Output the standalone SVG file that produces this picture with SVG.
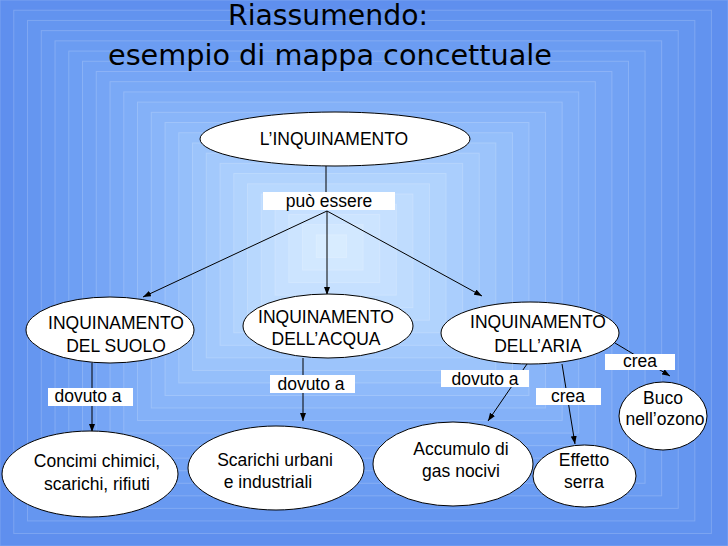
<svg xmlns="http://www.w3.org/2000/svg" width="728" height="546" viewBox="0 0 728 546">
<defs>
<marker id="arr" viewBox="0 0 8 6" markerWidth="8" markerHeight="6" refX="8" refY="3" orient="auto" markerUnits="userSpaceOnUse">
<path d="M0,0 L8,3 L0,6 z" fill="#000"/>
</marker>
<style>
.bg rect{stroke:#ffffff;stroke-opacity:0.18;stroke-width:1}
.node ellipse{fill:#fff;stroke:#000;stroke-width:1}
.t{font-family:"Liberation Sans",Arial,sans-serif;font-size:17.5px;fill:#000;text-anchor:middle}
.title{font-family:"DejaVu Sans",sans-serif;font-size:28px;fill:#000;text-anchor:middle}
.lbl rect{fill:#fff}
.conn line{stroke:#000;stroke-width:1;fill:none}
.conn .a{marker-end:url(#arr)}
</style>
</defs>
<g class="bg">
<rect x="0" y="0" width="728" height="546" fill="#5f8fee"/>
<rect x="13.75" y="10.21" width="697.67" height="523.25" fill="#6293ef"/>
<rect x="27.5" y="20.42" width="667.33" height="500.5" fill="#6596f0"/>
<rect x="41.25" y="30.63" width="637" height="477.75" fill="#6899f1"/>
<rect x="55" y="40.83" width="606.67" height="455" fill="#6b9cf2"/>
<rect x="68.75" y="51.04" width="576.33" height="432.25" fill="#6e9ff3"/>
<rect x="82.5" y="61.25" width="546" height="409.5" fill="#72a2f4"/>
<rect x="96.25" y="71.46" width="515.67" height="386.75" fill="#76a5f5"/>
<rect x="110" y="81.67" width="485.33" height="364" fill="#7aa9f6"/>
<rect x="123.75" y="91.88" width="455" height="341.25" fill="#7fadf7"/>
<rect x="137.5" y="102.08" width="424.67" height="318.5" fill="#84b1f8"/>
<rect x="151.25" y="112.29" width="394.33" height="295.75" fill="#89b5f9"/>
<rect x="165" y="122.5" width="364" height="273" fill="#8fbafa"/>
<rect x="178.75" y="132.71" width="333.67" height="250.25" fill="#95bffa"/>
<rect x="192.5" y="142.92" width="303.33" height="227.5" fill="#9cc4fb"/>
<rect x="206.25" y="153.13" width="273" height="204.75" fill="#a3c9fc"/>
<rect x="220" y="163.33" width="242.67" height="182" fill="#aacefd"/>
<rect x="233.75" y="173.54" width="212.33" height="159.25" fill="#b1d3fd"/>
<rect x="247.5" y="183.75" width="182" height="136.5" fill="#b8d8fe"/>
<rect x="261.25" y="193.96" width="151.67" height="113.75" fill="#bfdcfe"/>
<rect x="275" y="204.17" width="121.33" height="91" fill="#c6e0ff"/>
<rect x="288.75" y="214.38" width="91" height="68.25" fill="#cce4ff"/>
<rect x="302.5" y="224.58" width="60.67" height="45.5" fill="#d2e8ff"/>
<rect x="316.25" y="234.79" width="30.33" height="22.75" fill="#d8ecff"/>
</g>
<g id="title">
<text class="title" x="328" y="25" textLength="200" lengthAdjust="spacingAndGlyphs">Riassumendo:</text>
<text class="title" x="330" y="65" textLength="444" lengthAdjust="spacingAndGlyphs">esempio di mappa concettuale</text>
</g>
<g class="conn">
<line x1="326" y1="166" x2="326" y2="192"/>
<line class="a" x1="327" y1="211" x2="143" y2="297"/>
<line class="a" x1="327" y1="211" x2="327" y2="295"/>
<line class="a" x1="327" y1="211" x2="482" y2="296"/>
<line class="a" x1="92" y1="363" x2="92" y2="432"/>
<line class="a" x1="303" y1="358" x2="303" y2="421"/>
<line class="a" x1="527" y1="364" x2="488" y2="421"/>
<line class="a" x1="562" y1="364" x2="575" y2="444"/>
<line class="a" x1="615" y1="343" x2="670" y2="376"/>
</g>
<g class="lbl">
<g id="lbl-puo"><rect x="263" y="192" width="132" height="18"/><text class="t" x="329" y="207">può essere</text></g>
<g id="lbl-dov1"><rect x="48" y="388" width="85" height="18"/><text class="t" x="88" y="402">dovuto a</text></g>
<g id="lbl-dov2"><rect x="270" y="375" width="85" height="18"/><text class="t" x="311" y="390">dovuto a</text></g>
<g id="lbl-dov3"><rect x="441" y="370" width="88" height="17"/><text class="t" x="485" y="385">dovuto a</text></g>
<g id="lbl-crea1"><rect x="536" y="388" width="65" height="17"/><text class="t" x="568" y="402">crea</text></g>
<g id="lbl-crea2"><rect x="605" y="354" width="70" height="16"/><text class="t" x="640" y="367">crea</text></g>
</g>
<g id="n-inq" class="node"><ellipse cx="335" cy="139" rx="135" ry="27"/><text class="t" x="334" y="145">L’INQUINAMENTO</text></g>
<g id="n-suolo" class="node"><ellipse cx="110" cy="330" rx="84" ry="33"/><text class="t" x="116" y="329">INQUINAMENTO</text><text class="t" x="116" y="352">DEL SUOLO</text></g>
<g id="n-acqua" class="node"><ellipse cx="328" cy="326" rx="85" ry="32"/><text class="t" x="326" y="323">INQUINAMENTO</text><text class="t" x="326" y="345">DELL’ACQUA</text></g>
<g id="n-aria" class="node"><ellipse cx="530" cy="333" rx="89" ry="31"/><text class="t" x="538" y="328">INQUINAMENTO</text><text class="t" x="538" y="352">DELL’ARIA</text></g>
<g id="n-concimi" class="node"><ellipse cx="90" cy="474" rx="88" ry="43"/><text class="t" x="97" y="467">Concimi chimici,</text><text class="t" x="97" y="490">scarichi, rifiuti</text></g>
<g id="n-scarichi" class="node"><ellipse cx="276" cy="468" rx="88" ry="42"/><text class="t" x="275" y="466">Scarichi urbani</text><text class="t" x="268" y="488">e industriali</text></g>
<g id="n-accumulo" class="node"><ellipse cx="453" cy="464" rx="80" ry="42"/><text class="t" x="461" y="455">Accumulo di</text><text class="t" x="461" y="477">gas nocivi</text></g>
<g id="n-effetto" class="node"><ellipse cx="584.5" cy="476" rx="51.5" ry="31"/><text class="t" x="584" y="466">Effetto</text><text class="t" x="584" y="488">serra</text></g>
<g id="n-buco" class="node"><ellipse cx="663" cy="416" rx="44" ry="34"/><text class="t" x="663" y="404">Buco</text><text class="t" x="665" y="425">nell’ozono</text></g>
</svg>
